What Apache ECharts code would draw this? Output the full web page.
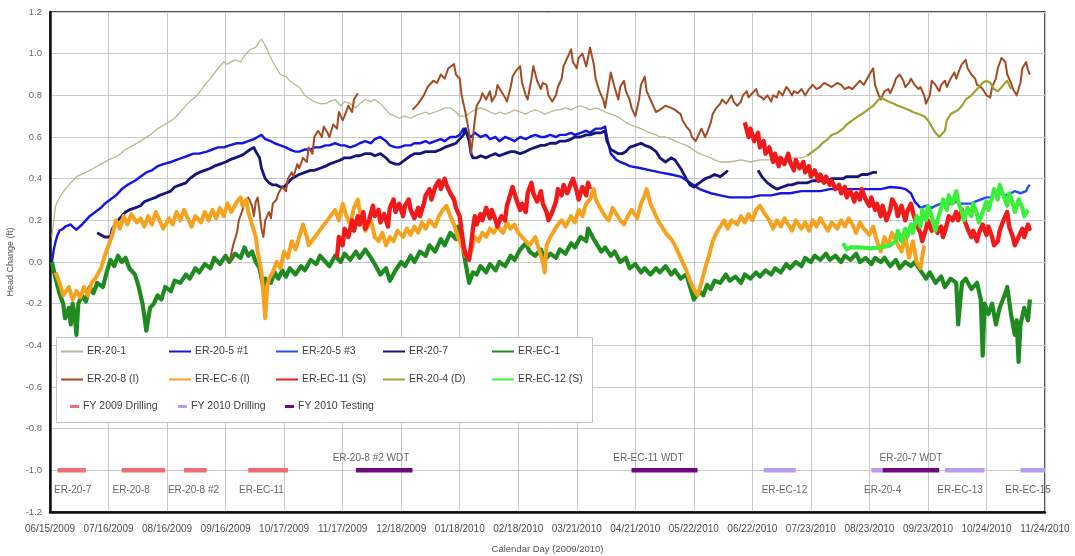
<!DOCTYPE html>
<html>
<head>
<meta charset="utf-8">
<title>Head Change 2009/2010</title>
<script src="https://cdn.jsdelivr.net/npm/echarts@6/dist/echarts.min.js"></script>
<style>
  html, body { margin: 0; padding: 0; background: #ffffff; }
  #chart { width: 1075px; height: 556px; }
</style>
</head>
<body>
<div id="chart"></div>
<script>
// X values are calendar days counted from 06/15/2009; one tick every 31 days.
const xTickLabels = ['06/15/2009','07/16/2009','08/16/2009','09/16/2009','10/17/2009','11/17/2009',
  '12/18/2009','01/18/2010','02/18/2010','03/21/2010','04/21/2010','05/22/2010','06/22/2010',
  '07/23/2010','08/23/2010','09/23/2010','10/24/2010','11/24/2010'];

// Head change (ft) per well: [day, value]; a null value breaks the record.
const er20_1 = [[1,0.12],[2,0.2],[3,0.27],[5,0.31],[8,0.35],[11,0.38],[14,0.41],[19,0.43],[23,0.45],[27,0.47],[31,0.49],[36,0.51],[40,0.54],[44,0.56],[48,0.58],[53,0.61],[57,0.64],[61,0.66],[66,0.69],[70,0.73],[74,0.77],[78,0.8],[82,0.85],[85,0.88],[89,0.93],[92,0.96],[94,0.95],[98,0.97],[101,0.96],[103,0.99],[106,1.02],[109,1.03],[111,1.06],[112,1.07],[114,1.04],[116,1.0],[118,0.96],[120,0.93],[122,0.9],[125,0.89],[127,0.87],[130,0.85],[132,0.84],[135,0.8],[138,0.78],[140,0.77],[143,0.76],[146,0.76],[148,0.77],[151,0.78],[154,0.75],[156,0.77],[159,0.76],[162,0.74],[164,0.76],[167,0.78],[170,0.77],[172,0.78],[175,0.76],[178,0.73],[180,0.71],[183,0.7],[185,0.69],[188,0.7],[191,0.69],[193,0.7],[196,0.71],[199,0.72],[201,0.71],[204,0.72],[207,0.73],[209,0.74],[212,0.74],[215,0.72],[217,0.7],[220,0.7],[223,0.72],[225,0.73],[228,0.74],[231,0.73],[233,0.72],[236,0.71],[238,0.72],[241,0.71],[244,0.72],[246,0.73],[249,0.72],[252,0.71],[254,0.72],[257,0.73],[260,0.72],[262,0.71],[265,0.72],[268,0.73],[270,0.73],[273,0.74],[276,0.73],[278,0.74],[281,0.75],[284,0.74],[286,0.73],[289,0.74],[292,0.73],[294,0.72],[297,0.71],[300,0.7],[302,0.69],[305,0.67],[307,0.66],[310,0.65],[313,0.64],[315,0.63],[318,0.62],[321,0.61],[323,0.6],[326,0.6],[329,0.59],[331,0.58],[334,0.57],[337,0.56],[339,0.55],[342,0.53],[344,0.52],[347,0.51],[350,0.5],[352,0.49],[355,0.48],[360,0.48],[366,0.49],[371,0.48],[376,0.49],[382,0.49],[387,0.48],[392,0.5],[398,0.5],[401,0.51]];

const er20_5_1 = [[1,0.0],[2,0.06],[3,0.1],[4,0.13],[5,0.15],[7,0.16],[8,0.17],[11,0.18],[12,0.17],[14,0.155],[15,0.16],[17,0.18],[19,0.2],[21,0.22],[24,0.24],[27,0.26],[29,0.28],[32,0.3],[35,0.32],[38,0.35],[41,0.37],[45,0.39],[48,0.41],[51,0.43],[54,0.44],[57,0.46],[60,0.47],[64,0.48],[67,0.49],[70,0.5],[73,0.51],[76,0.52],[79,0.52],[83,0.53],[86,0.54],[89,0.55],[92,0.55],[95,0.56],[99,0.57],[102,0.57],[105,0.58],[108,0.59],[110,0.6],[112,0.61],[114,0.59],[117,0.58],[119,0.57],[122,0.56],[125,0.55],[127,0.54],[130,0.53],[132,0.53],[135,0.54],[138,0.54],[140,0.55],[143,0.55],[146,0.56],[148,0.56],[151,0.57],[154,0.56],[156,0.56],[159,0.55],[162,0.56],[164,0.57],[167,0.58],[170,0.57],[172,0.59],[175,0.6],[178,0.58],[180,0.56],[183,0.55],[185,0.55],[188,0.56],[191,0.56],[193,0.57],[196,0.57],[199,0.58],[201,0.57],[204,0.58],[207,0.59],[209,0.58],[212,0.6],[215,0.6],[217,0.61],[219,0.64],[220,0.62],[223,0.6],[225,0.62],[228,0.6],[231,0.61],[233,0.59],[236,0.6],[238,0.58],[241,0.6],[244,0.59],[246,0.58],[249,0.6],[252,0.59],[254,0.6],[257,0.61],[260,0.6],[262,0.6],[265,0.61],[268,0.6],[270,0.61],[273,0.61],[276,0.62],[278,0.61],[281,0.62],[284,0.63],[286,0.62],[289,0.64],[292,0.64],[294,0.65],[295,0.6],[297,0.52],[300,0.49],[302,0.48],[305,0.47],[307,0.46],[313,0.45],[318,0.44],[323,0.43],[329,0.42],[334,0.41],[339,0.38],[344,0.35],[350,0.33],[355,0.32],[360,0.31],[366,0.31],[371,0.31],[376,0.32],[382,0.32],[387,0.33],[392,0.33],[398,0.34],[403,0.34],[408,0.34],[413,0.35],[419,0.35],[424,0.35],[429,0.35],[435,0.35],[440,0.35],[445,0.36],[451,0.355],[453,0.35],[456,0.33],[458,0.29],[461,0.26]];

const er20_5_3 = [[461,0.26],[464,0.27],[467,0.26],[469,0.27],[472,0.28],[474,0.27],[477,0.28],[480,0.29],[482,0.28],[485,0.28],[488,0.28],[490,0.29],[493,0.3],[496,0.31],[498,0.31],[501,0.32],[503,0.33],[506,0.32],[509,0.33],[511,0.34],[514,0.33],[517,0.34],[518,0.36],[519,0.37]];

const er20_7 = [[25,0.14],[27,0.13],[29,0.12],[30,0.115],[32,0.12],[33,0.16],[36,0.2],[38,0.22],[40,0.24],[42,0.25],[45,0.26],[48,0.27],[50,0.29],[53,0.3],[56,0.31],[58,0.32],[61,0.33],[64,0.34],[66,0.36],[69,0.37],[72,0.38],[74,0.4],[77,0.42],[79,0.43],[82,0.44],[85,0.45],[87,0.46],[90,0.47],[93,0.48],[95,0.49],[98,0.5],[101,0.51],[103,0.52],[106,0.54],[108,0.55],[109,0.53],[111,0.5],[112,0.45],[114,0.4],[116,0.38],[118,0.37],[120,0.37],[122,0.36],[124,0.36],[126,0.38],[128,0.4],[130,0.41],[132,0.42],[135,0.43],[138,0.44],[140,0.44],[143,0.45],[146,0.46],[148,0.47],[151,0.48],[154,0.49],[156,0.5],[159,0.5],[162,0.51],[164,0.51],[167,0.52],[170,0.52],[172,0.51],[175,0.52],[178,0.5],[180,0.48],[183,0.47],[185,0.47],[188,0.49],[191,0.51],[193,0.52],[196,0.52],[199,0.53],[201,0.53],[204,0.53],[207,0.54],[209,0.55],[212,0.56],[215,0.57],[217,0.59],[219,0.61],[220,0.64],[222,0.58],[223,0.52],[224,0.5],[226,0.5],[228,0.51],[231,0.5],[233,0.51],[236,0.52],[238,0.51],[241,0.52],[244,0.53],[246,0.53],[249,0.52],[252,0.53],[254,0.54],[257,0.55],[260,0.56],[262,0.56],[265,0.57],[268,0.57],[270,0.58],[273,0.58],[276,0.59],[278,0.6],[281,0.6],[284,0.61],[286,0.61],[289,0.62],[292,0.62],[294,0.63],[295,0.58],[297,0.54],[299,0.53],[301,0.52],[303,0.52],[305,0.53],[307,0.55],[310,0.56],[313,0.57],[315,0.56],[318,0.55],[321,0.53],[323,0.5],[326,0.48],[329,0.5],[331,0.49],[334,0.45],[337,0.4],[339,0.37],[341,0.36],[344,0.38],[347,0.4],[350,0.41],[352,0.42],[355,0.41],[358,0.43],[359,0.44],[366,null],[375,0.44],[377,0.41],[380,0.38],[383,0.36],[385,0.35],[388,0.36],[391,0.37],[393,0.37],[396,0.38],[399,0.38],[401,0.38],[404,0.39],[407,0.39],[409,0.39],[412,0.39],[414,0.4],[417,0.4],[420,0.4],[422,0.41],[425,0.41],[428,0.41],[430,0.42],[433,0.42],[436,0.43],[438,0.43]];

const erEC_1 = [[1,0.0],[3,-0.08],[5,-0.15],[7,-0.2],[8,-0.27],[10,-0.22],[11,-0.3],[12,-0.2],[13,-0.25],[14,-0.35],[15,-0.2],[17,-0.16],[19,-0.19],[21,-0.12],[23,-0.15],[25,-0.1],[28,-0.12],[30,-0.05],[32,0.01],[34,-0.02],[36,0.03],[38,0.0],[40,0.02],[42,-0.03],[45,-0.06],[47,-0.12],[49,-0.2],[50,-0.26],[51,-0.33],[53,-0.22],[55,-0.2],[57,-0.16],[59,-0.18],[61,-0.12],[64,-0.14],[66,-0.09],[69,-0.1],[72,-0.06],[74,-0.08],[77,-0.03],[79,-0.05],[82,-0.01],[85,-0.03],[87,0.02],[90,-0.01],[93,0.03],[95,0.0],[98,0.04],[101,0.02],[103,0.07],[105,0.03],[107,0.05],[109,0.0],[111,-0.03],[113,-0.12],[114,-0.08],[117,-0.1],[119,-0.05],[121,-0.08],[123,-0.04],[125,-0.07],[127,-0.03],[130,-0.06],[133,-0.02],[135,-0.04],[138,0.01],[141,-0.01],[143,0.03],[146,0.0],[148,-0.02],[151,0.03],[154,0.0],[156,0.04],[159,0.01],[162,0.05],[164,0.02],[167,0.06],[170,0.02],[172,-0.01],[175,-0.06],[178,-0.03],[180,-0.09],[183,-0.04],[186,0.0],[188,-0.02],[191,0.03],[193,0.0],[196,0.05],[199,0.03],[201,0.08],[204,0.05],[207,0.11],[209,0.08],[212,0.14],[215,0.11],[216,0.17],[218,0.12],[219,0.05],[221,-0.05],[222,-0.1],[224,-0.05],[226,-0.06],[228,-0.02],[231,-0.05],[233,-0.01],[236,-0.04],[238,0.0],[241,-0.02],[244,0.03],[246,0.01],[249,0.06],[252,0.09],[254,0.05],[257,0.03],[260,0.06],[262,0.01],[265,0.04],[268,0.02],[270,0.06],[273,0.04],[276,0.09],[278,0.07],[281,0.12],[284,0.1],[285,0.16],[288,0.11],[290,0.08],[292,0.05],[294,0.07],[297,0.03],[299,0.05],[302,0.0],[305,0.02],[307,-0.03],[310,-0.01],[313,-0.05],[315,-0.03],[318,-0.06],[321,-0.03],[323,-0.05],[326,-0.02],[329,-0.06],[331,-0.04],[334,-0.08],[337,-0.06],[339,-0.12],[341,-0.18],[344,-0.14],[346,-0.16],[348,-0.11],[350,-0.13],[352,-0.09],[355,-0.1],[358,-0.06],[360,-0.09],[363,-0.07],[366,-0.1],[368,-0.06],[371,-0.08],[374,-0.05],[376,-0.07],[379,-0.04],[382,-0.06],[384,-0.03],[387,-0.05],[390,-0.01],[392,-0.03],[395,0.0],[398,-0.02],[400,0.02],[403,0.0],[405,0.03],[408,0.01],[411,0.04],[413,0.01],[416,0.03],[419,0.0],[421,0.03],[424,0.01],[427,0.04],[429,0.0],[432,0.02],[435,-0.01],[437,0.02],[440,0.0],[442,0.02],[445,-0.02],[448,0.01],[450,-0.03],[453,0.0],[456,-0.02],[458,0.0],[461,-0.04],[464,-0.08],[466,-0.05],[469,-0.1],[472,-0.07],[474,-0.12],[477,-0.08],[480,-0.1],[481,-0.3],[483,-0.1],[485,-0.08],[488,-0.13],[491,-0.1],[493,-0.18],[494,-0.45],[495,-0.2],[497,-0.25],[499,-0.2],[501,-0.3],[503,-0.22],[506,-0.15],[507,-0.12],[509,-0.25],[511,-0.35],[512,-0.28],[513,-0.48],[514,-0.3],[516,-0.22],[518,-0.28],[519,-0.18]];

const er20_8 = [[95,0.0],[97,0.08],[99,0.14],[100,0.2],[102,0.25],[103,0.29],[105,0.31],[107,0.27],[108,0.22],[109,0.29],[110,0.31],[111,0.24],[112,0.16],[113,0.12],[114,0.2],[116,0.24],[117,0.21],[118,0.28],[120,0.3],[121,0.33],[123,0.36],[125,0.34],[126,0.4],[128,0.43],[129,0.41],[131,0.47],[132,0.45],[134,0.5],[136,0.48],[137,0.55],[139,0.52],[140,0.6],[142,0.63],[144,0.6],[145,0.65],[147,0.62],[148,0.6],[150,0.66],[152,0.64],[153,0.72],[155,0.68],[156,0.7],[158,0.75],[160,0.72],[161,0.78],[163,0.81],[180,null],[192,0.73],[195,0.76],[198,0.8],[200,0.84],[203,0.87],[205,0.86],[207,0.9],[209,0.88],[211,0.93],[214,0.95],[215,0.9],[217,0.88],[218,0.8],[220,0.72],[222,0.62],[223,0.52],[225,0.68],[226,0.75],[228,0.78],[229,0.81],[231,0.78],[233,0.82],[234,0.77],[236,0.8],[237,0.85],[239,0.82],[241,0.79],[242,0.77],[244,0.84],[245,0.89],[247,0.92],[249,0.94],[250,0.86],[252,0.8],[253,0.78],[255,0.88],[256,0.94],[258,0.87],[260,0.83],[261,0.86],[263,0.85],[264,0.8],[266,0.77],[268,0.8],[269,0.84],[271,0.88],[272,0.94],[274,0.98],[276,1.02],[277,0.96],[279,0.93],[280,0.98],[282,1.0],[284,0.94],[285,0.98],[286,1.03],[288,0.95],[289,0.88],[291,0.82],[293,0.78],[294,0.74],[296,0.85],[297,0.91],[299,0.84],[301,0.78],[302,0.84],[304,0.87],[305,0.82],[307,0.78],[308,0.74],[310,0.7],[312,0.78],[313,0.85],[315,0.89],[316,0.82],[318,0.78],[320,0.74],[321,0.72],[323,0.73],[326,0.75],[329,0.74],[331,0.73],[334,0.71],[335,0.68],[337,0.65],[339,0.63],[340,0.6],[342,0.58],[343,0.6],[345,0.64],[347,0.6],[348,0.62],[350,0.67],[351,0.71],[353,0.74],[355,0.76],[356,0.78],[358,0.76],[359,0.77],[361,0.8],[362,0.77],[364,0.75],[366,0.77],[367,0.8],[369,0.82],[370,0.79],[372,0.81],[374,0.83],[375,0.8],[377,0.79],[378,0.78],[380,0.8],[382,0.77],[383,0.8],[385,0.79],[386,0.82],[388,0.8],[390,0.84],[391,0.83],[393,0.8],[394,0.82],[396,0.81],[398,0.83],[400,0.8],[402,0.83],[404,0.85],[406,0.83],[408,0.84],[410,0.86],[412,0.85],[414,0.84],[417,0.86],[419,0.85],[421,0.83],[423,0.84],[425,0.83],[427,0.85],[429,0.87],[431,0.85],[434,0.9],[436,0.93],[437,0.85],[439,0.8],[440,0.78],[442,0.82],[444,0.83],[445,0.81],[447,0.85],[448,0.88],[450,0.9],[452,0.87],[453,0.84],[455,0.86],[456,0.88],[458,0.85],[460,0.83],[461,0.84],[463,0.8],[464,0.76],[466,0.8],[467,0.87],[469,0.85],[471,0.82],[472,0.85],[474,0.87],[475,0.84],[477,0.88],[479,0.91],[480,0.88],[482,0.93],[483,0.95],[485,0.97],[486,0.93],[488,0.9],[490,0.88],[491,0.85],[493,0.84],[494,0.83],[496,0.8],[498,0.79],[499,0.84],[501,0.88],[502,0.93],[504,0.98],[506,0.96],[507,0.9],[509,0.86],[510,0.83],[512,0.8],[514,0.86],[515,0.93],[517,0.96],[518,0.92],[519,0.9]];

const erEC_6 = [[3,-0.05],[5,-0.1],[7,-0.16],[10,-0.12],[12,-0.18],[14,-0.14],[16,-0.17],[18,-0.12],[20,-0.16],[22,-0.1],[24,-0.08],[27,-0.03],[29,0.03],[31,0.08],[33,0.13],[35,0.2],[37,0.16],[39,0.22],[41,0.18],[43,0.23],[46,0.19],[48,0.21],[50,0.17],[52,0.22],[54,0.18],[56,0.24],[58,0.2],[60,0.16],[63,0.21],[65,0.18],[67,0.24],[69,0.2],[71,0.25],[73,0.21],[75,0.17],[77,0.22],[80,0.19],[82,0.24],[84,0.2],[86,0.25],[88,0.21],[90,0.26],[92,0.22],[94,0.28],[96,0.24],[99,0.29],[101,0.31],[102,0.27],[104,0.3],[105,0.24],[107,0.18],[109,0.12],[110,0.05],[112,-0.05],[113,-0.15],[114,-0.27],[115,-0.12],[116,-0.08],[118,-0.05],[120,0.0],[122,-0.03],[124,0.05],[126,0.02],[128,0.1],[130,0.06],[133,0.15],[134,0.18],[136,0.12],[137,0.08],[151,0.25],[153,0.2],[155,0.28],[157,0.22],[159,0.18],[161,0.26],[163,0.3],[165,0.2],[167,0.15],[170,0.2],[172,0.12],[174,0.1],[176,0.14],[178,0.08],[180,0.12],[182,0.1],[184,0.15],[187,0.12],[189,0.16],[191,0.13],[193,0.17],[195,0.14],[197,0.19],[199,0.16],[201,0.2],[204,0.17],[206,0.22],[208,0.25],[210,0.27],[212,0.22],[214,0.18],[216,0.12],[218,0.08],[220,0.03],[223,0.05],[225,0.12],[227,0.1],[229,0.14],[231,0.12],[233,0.16],[235,0.14],[237,0.17],[240,0.14],[242,0.19],[244,0.16],[246,0.18],[248,0.14],[250,0.12],[252,0.1],[254,0.08],[257,0.12],[259,0.06],[261,0.0],[262,-0.05],[263,0.08],[265,0.12],[267,0.15],[269,0.18],[271,0.2],[273,0.17],[276,0.22],[278,0.19],[280,0.25],[282,0.22],[284,0.28],[286,0.3],[288,0.35],[289,0.3],[292,0.25],[294,0.22],[296,0.2],[298,0.26],[300,0.23],[302,0.2],[304,0.18],[306,0.22],[308,0.25],[311,0.21],[313,0.28],[315,0.32],[316,0.35],[318,0.28],[320,0.24],[322,0.2],[324,0.17],[326,0.14],[329,0.11],[331,0.08],[333,0.04],[335,0.0],[337,-0.04],[339,-0.09],[341,-0.13],[343,-0.16],[345,-0.1],[347,-0.03],[349,0.03],[351,0.1],[353,0.14],[355,0.17],[357,0.2],[359,0.16],[361,0.2],[364,0.18],[366,0.22],[368,0.19],[370,0.23],[372,0.2],[374,0.25],[376,0.27],[378,0.24],[381,0.2],[383,0.16],[385,0.2],[387,0.17],[389,0.21],[391,0.18],[393,0.15],[395,0.2],[398,0.16],[400,0.19],[402,0.15],[404,0.2],[406,0.17],[408,0.21],[410,0.18],[412,0.15],[414,0.19],[417,0.16],[419,0.2],[421,0.17],[423,0.21],[425,0.18],[427,0.14],[429,0.19],[431,0.16],[434,0.13],[436,0.17],[438,0.1],[440,0.05],[442,0.12],[444,0.08],[446,0.14],[448,0.1],[451,0.05],[453,0.12],[455,0.02],[457,0.1],[459,0.0],[461,-0.03],[463,0.08]];

const erEC_11 = [[152,0.02],[153,0.12],[155,0.08],[156,0.16],[158,0.12],[160,0.2],[161,0.15],[163,0.22],[164,0.18],[166,0.24],[167,0.16],[169,0.2],[171,0.27],[172,0.22],[174,0.25],[175,0.19],[177,0.23],[179,0.17],[180,0.26],[182,0.3],[183,0.24],[185,0.28],[187,0.22],[188,0.27],[190,0.3],[191,0.25],[193,0.21],[195,0.26],[196,0.22],[198,0.28],[199,0.32],[201,0.35],[202,0.3],[204,0.36],[206,0.39],[207,0.35],[209,0.4],[210,0.37],[212,0.33],[214,0.3],[215,0.26],[217,0.22],[218,0.15],[219,0.08],[220,0.04],[222,0.01],[223,0.08],[224,0.16],[225,0.22],[226,0.18],[228,0.23],[229,0.2],[231,0.26],[233,0.21],[234,0.25],[236,0.2],[237,0.17],[239,0.22],[241,0.2],[242,0.27],[244,0.33],[245,0.36],[247,0.3],[249,0.25],[250,0.28],[252,0.24],[253,0.33],[255,0.38],[256,0.33],[258,0.29],[260,0.34],[261,0.28],[263,0.24],[264,0.2],[266,0.24],[268,0.29],[269,0.35],[271,0.32],[272,0.37],[274,0.33],[276,0.38],[277,0.4],[279,0.34],[280,0.3],[282,0.36],[284,0.32],[285,0.38],[286,0.35],[300,null],[368,0.67],[370,0.6],[371,0.64],[373,0.58],[375,0.62],[376,0.55],[378,0.58],[379,0.52],[381,0.55],[383,0.48],[384,0.52],[386,0.46],[387,0.5],[389,0.47],[391,0.52],[392,0.48],[394,0.44],[395,0.49],[397,0.45],[399,0.48],[400,0.43],[402,0.46],[403,0.41],[405,0.44],[407,0.39],[408,0.42],[410,0.38],[411,0.41],[413,0.37],[414,0.39],[416,0.35],[418,0.37],[419,0.33],[421,0.36],[422,0.31],[424,0.34],[426,0.29],[427,0.33],[429,0.3],[430,0.35],[432,0.3],[434,0.27],[435,0.31],[437,0.25],[438,0.28],[440,0.22],[441,0.27],[443,0.2],[445,0.25],[446,0.3],[448,0.27],[449,0.22],[451,0.27],[453,0.2],[454,0.24],[456,0.28],[457,0.24],[459,0.18],[461,0.14],[462,0.1],[464,0.16],[465,0.2],[467,0.15],[469,0.19],[470,0.14],[472,0.17],[473,0.12],[475,0.18],[476,0.22],[478,0.2],[480,0.24],[481,0.2],[483,0.25],[484,0.21],[486,0.16],[488,0.12],[489,0.15],[491,0.1],[492,0.14],[494,0.18],[496,0.13],[497,0.17],[499,0.12],[500,0.08],[502,0.1],[503,0.15],[505,0.2],[507,0.24],[508,0.17],[510,0.12],[511,0.08],[513,0.12],[515,0.16],[516,0.12],[518,0.18],[519,0.15]];

const er20_4 = [[401,0.51],[404,0.53],[407,0.55],[409,0.57],[412,0.59],[414,0.61],[417,0.62],[420,0.64],[422,0.66],[425,0.68],[428,0.7],[430,0.71],[433,0.73],[436,0.75],[438,0.77],[440,0.79],[442,0.78],[444,0.77],[447,0.76],[449,0.75],[452,0.74],[455,0.73],[457,0.72],[460,0.71],[463,0.7],[465,0.68],[467,0.65],[469,0.62],[471,0.6],[472,0.6],[474,0.63],[475,0.68],[477,0.71],[479,0.72],[481,0.73],[483,0.75],[485,0.78],[488,0.8],[490,0.82],[492,0.84],[494,0.86],[496,0.87],[498,0.86],[500,0.83],[502,0.82],[505,0.85],[507,0.87],[509,0.83]];

const erEC_12 = [[420,0.09],[422,0.06],[424,0.07],[429,0.07],[435,0.065],[440,0.07],[445,0.08],[448,0.1],[449,0.15],[451,0.1],[453,0.16],[454,0.12],[456,0.18],[457,0.14],[459,0.22],[461,0.17],[462,0.25],[464,0.2],[465,0.27],[467,0.22],[469,0.15],[470,0.2],[472,0.26],[473,0.3],[475,0.25],[476,0.32],[478,0.28],[480,0.34],[481,0.29],[483,0.24],[484,0.2],[486,0.26],[488,0.22],[489,0.28],[491,0.23],[492,0.19],[494,0.24],[496,0.29],[497,0.25],[499,0.31],[500,0.35],[502,0.3],[503,0.37],[505,0.32],[507,0.27],[508,0.33],[510,0.28],[511,0.24],[513,0.3],[515,0.26],[516,0.22],[518,0.25]];

// Drilling and testing periods, drawn along the -1.0 line: [label, start day, end day, label day]
const drilling2009 = [['ER-20-7',4,19,12],['ER-20-8',38,61,43],['ER-20-8 #2',71,83,76],['ER-EC-11',105,126,112]];
const drilling2010 = [['ER-EC-12',378,395,389],['ER-20-4',435,441,441],['ER-EC-13',474,495,482],['ER-EC-15',514,527,518]];
const testing2010 = [['ER-20-8 #2 WDT',162,192,170],['ER-EC-11 WDT',308,343,317],['ER-20-7 WDT',441,471,456]];

const FONT = '"Liberation Sans", "DejaVu Sans", sans-serif';

// Noisy transducer records are drawn with wider strokes so they read as bands
const wells = [
  { name: 'ER-20-1',      data: er20_1,   color: '#b8b78f', width: 1.3 },
  { name: 'ER-20-5 #1',   data: er20_5_1, color: '#1515e8', width: 2.4 },
  { name: 'ER-20-5 #3',   data: er20_5_3, color: '#2450f2', width: 2.4 },
  { name: 'ER-20-7',      data: er20_7,   color: '#15157c', width: 2.8 },
  { name: 'ER-EC-1',      data: erEC_1,   color: '#1f8a1f', width: 4.2 },
  { name: 'ER-20-8 (I)',  data: er20_8,   color: '#a24b25', width: 2.0 },
  { name: 'ER-EC-6 (I)',  data: erEC_6,   color: '#f7a21e', width: 4.0 },
  { name: 'ER-EC-11 (S)', data: erEC_11,  color: '#f01a1a', width: 4.4 },
  { name: 'ER-20-4 (D)',  data: er20_4,   color: '#a2a233', width: 2.2 },
  { name: 'ER-EC-12 (S)', data: erEC_12,  color: '#3bef3b', width: 4.2 }
];

const periods = [
  { name: 'FY 2009 Drilling', list: drilling2009, color: '#f26b7b', above: false },
  { name: 'FY 2010 Drilling', list: drilling2010, color: '#b99cf0', above: false },
  { name: 'FY 2010 Testing',  list: testing2010,  color: '#6b0c79', above: true }
];

const series = [];
wells.forEach(w => {
  series.push({
    name: w.name, type: 'line', data: w.data, showSymbol: false, symbol: 'none',
    connectNulls: false, lineStyle: { color: w.color, width: w.width, join: 'round' },
    itemStyle: { color: w.color }, emphasis: { disabled: true }, silent: true
  });
});

const PERIOD_LEVEL = -1.0;
const labelPoints = [];
periods.forEach(p => {
  const pts = [];
  p.list.forEach(ev => {
    pts.push([ev[1], PERIOD_LEVEL], [ev[2], PERIOD_LEVEL], [ev[2], null]);
    labelPoints.push({ name: ev[0], value: [ev[3], PERIOD_LEVEL + (p.above ? 0.06 : -0.094)] });
  });
  series.push({
    name: p.name, type: 'line', data: pts, showSymbol: false, symbol: 'none',
    lineStyle: { color: p.color, width: 4.5, cap: 'butt' }, itemStyle: { color: p.color },
    emphasis: { disabled: true }, silent: true, z: 3
  });
});

series.push({
  type: 'scatter', data: labelPoints, symbolSize: 0, silent: true, z: 4,
  label: { show: true, position: 'inside', formatter: '{b}', color: '#404040', fontSize: 10, fontFamily: FONT }
});

// Legend: three rows inside a white box, one legend block per entry
const legendRows = [
  ['ER-20-1', 'ER-20-5 #1', 'ER-20-5 #3', 'ER-20-7', 'ER-EC-1'],
  ['ER-20-8 (I)', 'ER-EC-6 (I)', 'ER-EC-11 (S)', 'ER-20-4 (D)', 'ER-EC-12 (S)'],
  ['FY 2009 Drilling', 'FY 2010 Drilling', 'FY 2010 Testing']
];
const colLeft = [61, 169, 276, 383, 492];
const rowMid = [353, 381, 408];
const legends = [];
legendRows.forEach((row, r) => {
  row.forEach((name, c) => {
    const short = r === 2;
    legends.push({
      data: [name], orient: 'horizontal',
      left: colLeft[c] + (short ? 9 : 0), top: rowMid[r] - 7,
      padding: 0, itemGap: 0, icon: 'rect',
      itemWidth: short ? 9 : 22, itemHeight: short ? 3 : 2,
      selectedMode: false, z: 100,
      textStyle: { fontSize: 10.5, color: '#404040', fontFamily: FONT, padding: [0, 0, 0, -1] }
    });
  });
});

const chart = echarts.init(document.getElementById('chart'), null, { renderer: 'canvas' });
chart.setOption({
  animation: false,
  backgroundColor: '#ffffff',
  textStyle: { fontFamily: FONT },
  grid: {
    left: 50, right: 30, top: 12, bottom: 44, containLabel: false, outerBoundsMode: 'none',
    show: true, borderColor: '#1a1a1a', borderWidth: 1.5, backgroundColor: 'transparent'
  },
  legend: legends,
  graphic: [{
    type: 'rect', left: 56, top: 337, z: 90, silent: true,
    shape: { width: 536, height: 85 },
    style: { fill: '#ffffff', stroke: '#c4c4c4', lineWidth: 1 }
  }],
  xAxis: {
    type: 'value', min: 0, max: 527, interval: 31,
    name: 'Calendar Day (2009/2010)', nameLocation: 'middle', nameGap: 32,
    nameTextStyle: { fontSize: 9.5, color: '#555555', fontFamily: FONT },
    axisLine: { show: true, onZero: false, lineStyle: { color: '#111111', width: 2.5 } },
    axisTick: { show: false },
    splitLine: { show: true, lineStyle: { color: '#c9c9c9', width: 1 } },
    axisLabel: {
      margin: 12, fontSize: 10, color: '#4d4d4d', fontFamily: FONT, hideOverlap: false,
      showMinLabel: true, showMaxLabel: true,
      formatter: v => xTickLabels[Math.round(v / 31)] || ''
    }
  },
  yAxis: {
    type: 'value', min: -1.2, max: 1.2, interval: 0.2,
    name: 'Head Change (ft)', nameLocation: 'middle', nameGap: 28, nameRotate: 90,
    nameTextStyle: { fontSize: 9, color: '#555555', fontFamily: FONT },
    axisLine: { show: true, onZero: false, lineStyle: { color: '#111111', width: 2.5 } },
    axisTick: { show: false },
    splitLine: { show: true, lineStyle: { color: '#c9c9c9', width: 1 } },
    axisLabel: {
      margin: 8, fontSize: 9.5, color: '#6a6a6a', fontFamily: FONT, hideOverlap: false,
      formatter: v => (Math.abs(v) < 1e-9 ? 0 : v).toFixed(1)
    }
  },
  series: series
});
</script>
</body>
</html>
